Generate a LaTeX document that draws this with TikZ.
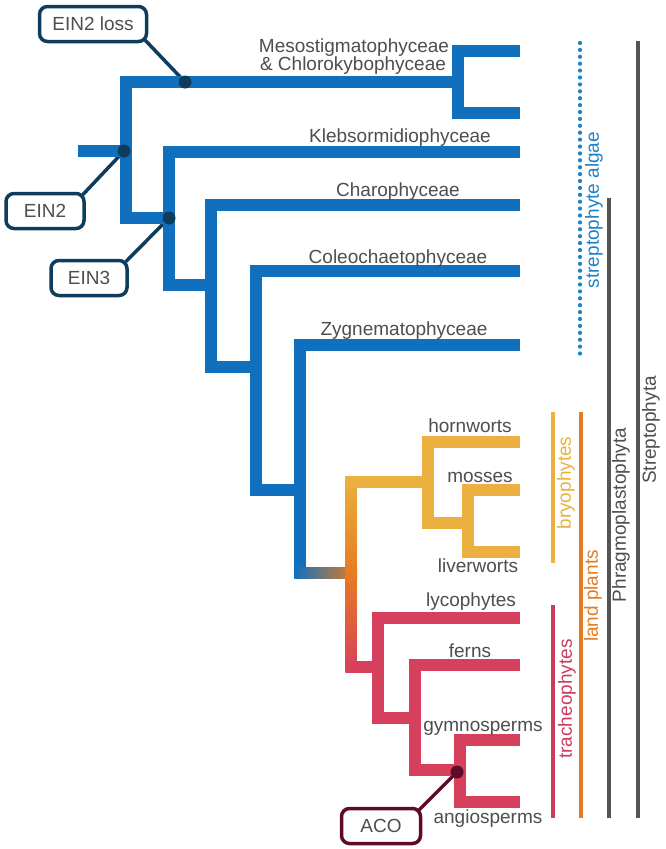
\documentclass[tikz,border=0pt]{standalone}
\usepackage{fontspec}
\setmainfont{Liberation Sans}
\definecolor{tblue}{RGB}{16,112,189}
\definecolor{ablue}{RGB}{30,130,198}
\definecolor{tyellow}{RGB}{236,176,64}
\definecolor{torange}{RGB}{230,124,34}
\definecolor{tred}{RGB}{214,64,92}
\definecolor{lred}{RGB}{204,60,92}
\definecolor{tgray}{RGB}{78,78,78}
\definecolor{bgray}{RGB}{85,85,85}
\definecolor{boxnavy}{RGB}{14,60,92}
\definecolor{acomaroon}{RGB}{92,12,42}
\pgfdeclarelayer{bg}
\pgfdeclarelayer{links}
\pgfsetlayers{bg,links,main}
\begin{document}
\begin{tikzpicture}[x=1pt,y=-1pt,
  branch/.style={line width=11.5pt, line join=miter, line cap=butt},
  lab/.style={text=tgray, font=\fontsize{19}{22}\selectfont, inner sep=0pt},
  bar/.style={line width=4pt, line cap=butt},
  callout/.style={draw=#1, line width=3.5pt, rounded corners=8pt, fill=white,
    text=tgray, font=\fontsize{19}{22}\selectfont, minimum height=35pt, inner sep=2pt},
  link/.style={draw=#1, line width=3.5pt}
]
\begin{pgfonlayer}{bg}
\fill[white] (0,0) rectangle (665,849);
\end{pgfonlayer}
\useasboundingbox (0,0) rectangle (665,849);

% ---------------- blue part of the tree
\draw[branch, tblue] (78,151) -- (126,151);
\draw[branch, tblue] (520,51) -- (458,51) -- (458,113) -- (520,113);
\draw[branch, tblue] (458,82) -- (126,82) -- (126,218) -- (169,218);
\draw[branch, tblue] (520,152) -- (169,152) -- (169,285) -- (211,285);
\draw[branch, tblue] (520,205) -- (211,205) -- (211,367) -- (256,367);
\draw[branch, tblue] (520,271) -- (256,271) -- (256,490) -- (300,490);
\draw[branch, tblue] (520,345) -- (300,345) -- (300,573);

% ---------------- colour transitions
\shade[left color=tblue, right color=torange] (294.25,567.25) rectangle (357,578.75);
\shade[top color=tyellow, bottom color=torange] (345.25,476.25) rectangle (356.75,573);
\shade[top color=torange, bottom color=tred] (345.25,573) rectangle (356.75,672.75);

% ---------------- bryophytes
\draw[branch, tyellow] (351,482) -- (428,482);
\draw[branch, tyellow] (520,442) -- (428,442) -- (428,523) -- (468,523);
\draw[branch, tyellow] (520,490) -- (468,490) -- (468,552) -- (520,552);

% ---------------- tracheophytes
\draw[branch, tred] (351,667) -- (378,667);
\draw[branch, tred] (520,618) -- (378,618) -- (378,718) -- (415,718);
\draw[branch, tred] (520,665) -- (415,665) -- (415,770) -- (460,770);
\draw[branch, tred] (520,740) -- (460,740) -- (460,802) -- (520,802);

% ---------------- tip labels
\node[lab, anchor=base] (meso1) at (354,52) {Mesostigmatophyceae};
\node[lab, anchor=base] (meso2) at (353,70) {\& Chlorokybophyceae};
\node[lab, anchor=base] (kleb) at (400,142) {Klebsormidiophyceae};
\node[lab, anchor=base] (chara) at (398,196) {Charophyceae};
\node[lab, anchor=base] (coleo) at (398,263) {Coleochaetophyceae};
\node[lab, anchor=base] (zygn) at (404,335) {Zygnematophyceae};
\node[lab, anchor=base] (horn) at (470,432) {hornworts};
\node[lab, anchor=base] (moss) at (480,482) {mosses};
\node[lab, anchor=base] (liver) at (478,572) {liverworts};
\node[lab, anchor=base] (lyco) at (471,606) {lycophytes};
\node[lab, anchor=base] (fern) at (470,657) {ferns};
\node[lab, anchor=base] (gymn) at (483,731) {gymnosperms};
\node[lab, anchor=base] (angio) at (488,823) {angiosperms};

% ---------------- clade bars
\draw[bar, ablue, line width=4.2pt, line cap=round, dash pattern=on 0pt off 6.9pt] (580,43) -- (580,360);
\draw[bar, bgray] (638,41) -- (638,818);
\draw[bar, bgray] (609,198) -- (609,818);
\draw[bar, tyellow] (553,412) -- (553,563);
\draw[bar, torange] (581,412) -- (581,818);
\draw[bar, lred] (553,605) -- (553,818);

\node[lab, rotate=90, text=ablue] (algae) at (594,210) {streptophyte algae};
\node[lab, rotate=90, text=tyellow] (bryo) at (566,483) {bryophytes};
\node[lab, rotate=90, text=torange] (land) at (593,596) {land plants};
\node[lab, rotate=90, text=lred] (trach) at (567,699) {tracheophytes};
\node[lab, rotate=90] (phrag) at (621,515) {Phragmoplastophyta};
\node[lab, rotate=90] (strep) at (651,430) {Streptophyta};

% ---------------- gene events
\coordinate (dloss) at (185,82);
\coordinate (dein2) at (124,151);
\coordinate (dein3) at (169,218);
\coordinate (daco) at (457,772);

\node[callout=boxnavy, minimum width=107pt] (bloss) at (93,24) {EIN2 loss};
\node[callout=boxnavy, minimum width=78pt] (bein2) at (45,211) {EIN2};
\node[callout=boxnavy, minimum width=76pt] (bein3) at (89,278) {EIN3};
\node[callout=acomaroon, minimum width=79pt] (baco) at (381,826) {ACO};

\begin{pgfonlayer}{links}
\draw[link=boxnavy] (bloss.south east) ++(-3,-3) -- (dloss);
\draw[link=boxnavy] (bein2.north east) ++(-3,3) -- (dein2);
\draw[link=boxnavy] (bein3.north east) ++(-3,3) -- (dein3);
\draw[link=acomaroon] (baco.north east) ++(-3,3) -- (daco);
\end{pgfonlayer}

\fill[boxnavy] (dloss) circle (6.5pt);
\fill[boxnavy] (dein2) circle (6.5pt);
\fill[boxnavy] (dein3) circle (6.5pt);
\fill[acomaroon] (daco) circle (6.5pt);
\end{tikzpicture}
\end{document}
